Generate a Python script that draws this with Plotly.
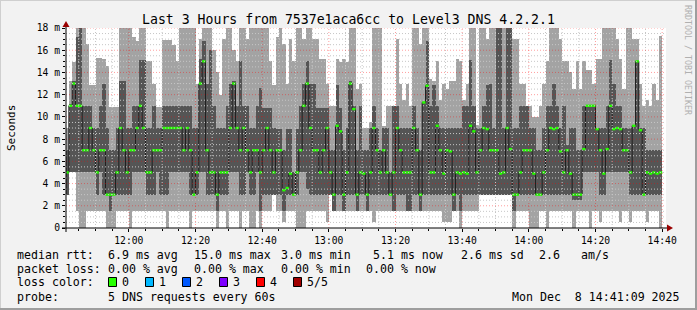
import pandas as pd
import plotly.graph_objects as go

# ---------------- data (one column per minute, 11:41 .. 14:39) ----------------
median = [
    5, 11, 13, 11, 11, 7, 7, 9, 7, 5,
    7, 7, 3, 3, 3, 5, 9, 7, 5, 7,
    7, 9, 11, 9, 5, 5, 7, 7, 7, 9,
    9, 9, 9, 9, 9, 7, 9, 7, 3, 5,
    13, 15, 7, 5, 5, 3, 5, 5, 5, 9,
    13, 9, 7, 9, 7, 5, 7, 7, 5, 7,
    9, 7, 5, 7, 7, 3.4, 3.6, 4.9, 3, 5,
    7, 11, 13, 9, 7, 7, 5, 7, 9, 5,
    3, 9.2, 8.7, 3, 5, 13, 10.7, 3, 5, 4.9,
    3, 5, 9, 7, 5, 7, 5, 3, 5, 9,
    7, 5, 5, 5, 9, 7, 3, 11.3, 12.8, 5,
    5, 9.2, 7, 4.9, 7, 6.9, 3, 5, 4.9, 5,
    4.9, 9.2, 8.7, 5, 7, 9, 8.9, 7, 7, 7,
    4.9, 5, 9, 7.1, 3, 3, 5, 7, 7, 7,
    4.9, 3, 3, 5, 7, 9, 8.9, 9, 6.9, 5,
    7, 4.9, 3, 3, 3, 7.1, 11, 11, 11, 8.9,
    7, 4.9, 7.1, 11, 8.9, 9, 8.9, 7, 7, 5,
    9.2, 15, 8.8, 3, 5, 4.9, 5, 4.9, 5,
]
ping_min = [
    3, 5, 5, 1.5, 0, 0, 1.5, 1.5, 1.5, 1.5,
    1.5, 1.5, 0, 0, 0, 1.5, 1.5, 1.5, 1.5, 0,
    1.5, 1.5, 1.5, 1.5, 1.5, 1.5, 1.5, 1.5, 1.5, 1.5,
    0, 1.5, 1.5, 1.5, 1.5, 1.5, 1.5, 0, 1.5, 1.5,
    1.5, 1.5, 1.5, 1.5, 1.5, 0, 1.5, 1.5, 0, 1.5,
    1.5, 1.5, 0, 1.5, 1.5, 0, 0, 1.5, 0, 1.5,
    1.5, 1.5, 3, 1.5, 1.5, 0.5, 1.5, 1.5, 1.5, 0,
    0, 0, 1.5, 1.5, 1.5, 1.5, 1.5, 1.5, 0.5, 3,
    1.5, 1.5, 1.5, 1.5, 1.5, 1.5, 1.5, 1.5, 1.5, 1.5,
    1.5, 1.5, 0.5, 1.5, 1.5, 1.5, 1.5, 1.5, 1.5, 1.5,
    1.5, 1.5, 1.5, 1.5, 1.5, 1.5, 1.5, 1.5, 1.5, 1.5,
    1.5, 1.5, 1.5, 0.5, 0.5, 0.5, 1.5, 1.5, 0, 1.5,
    1.5, 1.5, 1.5, 1.5, 3, 3, 3, 3, 3, 3,
    3, 3, 3, 3, 0, 1.5, 1.5, 1.5, 1.5, 0,
    0, 0, 1.5, 1.5, 0, 1.5, 1.5, 1.5, 1.5, 1.5,
    1.5, 1.5, 0, 1.5, 1.5, 1.5, 1.5, 0, 1.5, 1.5,
    0.5, 1.5, 1.5, 1.5, 1.5, 1.5, 0.5, 1.5, 1.5, 0.5,
    1.5, 1.5, 1.5, 1.5, 0.5, 1.5, 1.5, 1.5, 0,
]
ping_q1 = [
    3, 5, 5, 5, 5, 5, 5, 5, 5, 3,
    5, 3, 3, 1.5, 3, 3, 3, 3, 3, 3,
    5, 5, 5, 5, 3, 3, 3, 5, 3, 3,
    3, 5, 5, 5, 5, 5, 5, 3, 3, 3,
    5, 5, 3, 3, 3, 1.5, 3, 3, 3, 5,
    5, 5, 3, 3, 5, 3, 3, 5, 1.5, 3,
    3, 3, 3, 3, 3, 1.5, 3, 3, 3, 3,
    5, 5, 3.5, 3, 3, 3, 3, 3, 3, 3,
    1.5, 3, 3, 1.5, 3, 3, 3, 1.5, 3, 3,
    1.5, 3, 3, 3, 3, 3, 3, 3, 1.5, 3,
    3, 3, 1.5, 1.5, 3, 3, 1.5, 3, 3, 3,
    3, 3, 3, 3, 3, 3, 1.5, 3, 1.5, 3,
    3, 3, 3, 3, 3, 3, 3, 3, 3, 3,
    3, 3, 3, 3, 1.5, 3, 3, 3, 3, 3,
    3, 3, 3, 3, 3, 3, 3, 3, 3, 3,
    3, 3, 2.5, 2.5, 2.5, 5, 5, 5, 5, 5,
    3, 3, 5, 5, 5, 5, 5, 5, 5, 3,
    3, 3, 3, 3, 3, 3, 3, 3, 3,
]
ping_q3 = [
    7, 11.2, 13.2, 17.2, 19, 11, 11, 11, 9, 9,
    11, 13, 9, 7, 7, 9, 13.2, 13.2, 9, 9,
    11, 11, 15.1, 15.1, 9, 9, 11, 9, 9, 11,
    11, 11, 11, 11, 11, 11, 11, 11, 9, 9,
    15.2, 16.8, 13, 16, 11, 9, 9, 9, 11, 13,
    13.2, 11, 15, 11, 11, 9, 9, 11, 12.6, 10.8,
    10.8, 10.8, 9, 8.9, 8.9, 7, 8.9, 8.9, 5, 8.9,
    11, 13, 15, 13, 13, 10.8, 10.8, 10.8, 10.8, 7,
    7, 12.9, 10.8, 7, 9, 13.2, 11, 7, 11, 7,
    7, 9, 11, 9, 7, 9, 9, 5, 11, 11,
    9, 9, 9, 9, 11, 9, 7, 11.3, 16.8, 11,
    12.9, 11, 9, 9, 9, 9, 9, 9, 9, 11,
    11, 15.1, 11, 9, 9, 11, 12.9, 13, 9, 19,
    19, 9, 19, 19, 9, 9, 11, 11, 11, 9,
    9, 7, 7, 9, 11, 11, 13, 11, 9, 11,
    7.5, 9, 9, 7, 7, 11, 11, 11, 11, 9,
    9, 9, 11, 15.1, 13, 11, 11, 9, 9, 9,
    9.2, 15, 9, 9, 7, 7, 7, 7, 7,
]
ping_max = [
    9, 13.2, 14.9, 19, 19, 19, 16.6, 12.9, 12.9, 15.3,
    15.3, 15.2, 14.6, 10.9, 10.9, 10.9, 19, 19, 19, 19,
    17.2, 16.8, 19, 19, 15, 15, 13, 10.9, 10.9, 16.9,
    16.9, 16.9, 16.5, 15, 19, 19, 19, 19, 19, 13,
    17, 19, 19, 19, 16, 14, 12, 17, 19, 19,
    16, 15, 19, 19, 17, 19, 19, 19, 19, 19,
    19, 15, 12.9, 17.2, 19, 16.6, 13, 17, 15, 19,
    19, 17, 19, 19, 17, 17, 15.2, 15.2, 13, 11,
    11, 15.2, 14.9, 15.2, 14.9, 19, 19, 12.5, 13, 9,
    9, 9.5, 19, 19, 19, 9.2, 11, 11, 11, 17,
    13, 11.5, 13, 11, 19, 19, 16.6, 19, 19, 13.4,
    13.2, 15, 11.5, 13, 12.5, 13.2, 13.2, 15.2, 15, 11.5,
    13, 19, 19, 9.3, 19, 19, 17, 19, 19, 19,
    19, 19, 19, 19, 17, 17, 13, 13, 11, 11,
    10, 10, 11, 13, 15, 19, 19, 19, 17, 15,
    15, 14, 12.5, 15, 12.5, 15, 14.2, 14.2, 13, 15.2,
    15.2, 19, 19, 19, 19, 17, 15.2, 12.5, 19, 19,
    17, 17, 13, 11, 11.5, 11, 13, 11.5, 17.3,
]

y_ticks = [0, 2, 4, 6, 8, 10, 12, 14, 16, 18]
y_tick_text = ["0", "2 m", "4 m", "6 m", "8 m", "10 m", "12 m", "14 m", "16 m", "18 m"]
x_tick_text = ["12:00", "12:20", "12:40", "13:00", "13:20", "13:40", "14:00", "14:20", "14:40"]

title = "Last 3 Hours from 7537e1aca6cc to Level3 DNS 4.2.2.1"
stats_rtt = [("median rtt:", 16.4), ("6.9 ms avg", 106.7), ("15.0 ms max", 192.5),
             ("3.0 ms min", 280), ("5.1 ms now", 372), ("2.6 ms sd", 459.5),
             ("2.6", 538), ("am/s", 579.5)]
stats_loss = [("packet loss:", 16.4), ("0.00 % avg", 106.7), ("0.00 % max", 193.3),
              ("0.00 % min", 279.5), ("0.00 % now", 365)]
loss_labels = ["0", "1", "2", "3", "4", "5/5"]
loss_colors = ["#26ff00", "#00b8ff", "#0059ff", "#7e00ff", "#ff0000", "#a10000"]

# ---------------- figure ----------------
DAY = "2025-12-08 "
t_start = pd.Timestamp(DAY + "11:41:09")
t_end = pd.Timestamp(DAY + "14:41:09")
times = pd.date_range(DAY + "11:41:00", periods=len(median), freq="min")
centers = times + pd.Timedelta(seconds=30)
STEP = pd.Timedelta(minutes=1)
STEP_MS = 60000

L, T, W, H = 66, 28, 600, 200   # plot area in pixels


def px(x):
    return (x - L) / W


def py(y):
    return (T + H - y) / H


FONT = "DejaVu Sans Mono"

fig = go.Figure()
fig.add_trace(go.Bar(
    x=centers, base=ping_min, y=[hi - lo for lo, hi in zip(ping_min, ping_max)],
    width=STEP_MS, marker=dict(color="#a3a3a3", line=dict(width=0)), hoverinfo="skip"))
fig.add_trace(go.Bar(
    x=centers, base=ping_q1, y=[hi - lo for lo, hi in zip(ping_q1, ping_q3)],
    width=STEP_MS, marker=dict(color="#555555", line=dict(width=0)), hoverinfo="skip"))
# median: black step line
line_x = list(times) + [times[-1] + STEP]
line_y = list(median) + [median[-1]]
fig.add_trace(go.Scatter(
    x=line_x, y=line_y, mode="lines",
    line=dict(shape="hv", color="#202020", width=1), hoverinfo="skip"))
# median: loss-coloured dash for every step (0 loss -> green)
gx, gy = [], []
for tk, m in zip(times, median):
    gx += [tk, tk + STEP, None]
    gy += [m, m, None]
fig.add_trace(go.Scatter(
    x=gx, y=gy, mode="lines", connectgaps=False,
    line=dict(color=loss_colors[0], width=2.4), hoverinfo="skip"))

shapes = []
# grid (drawn above the smoke, like rrdtool)
minor_col = "#c6c6c6"
major_col = "rgba(255,0,0,0.38)"
dash = "1px,2px"
t = pd.Timestamp(DAY + "11:45:00")
while t <= t_end:
    major = (t.minute % 20 == 0)
    shapes.append(dict(type="line", xref="x", yref="paper", x0=t, x1=t, y0=0, y1=1,
                       line=dict(color=major_col if major else minor_col, width=1, dash=dash),
                       layer="above"))
    t += pd.Timedelta(minutes=5)
v = 0.5
while v <= 18.001:
    major = abs(v / 2 - round(v / 2)) < 1e-9
    shapes.append(dict(type="line", xref="paper", yref="y", x0=0, x1=1, y0=v, y1=v,
                       line=dict(color=major_col if major else minor_col, width=1, dash=dash),
                       layer="above"))
    v += 0.5

# axes with arrows
shapes.append(dict(type="line", xref="paper", yref="paper", x0=px(62), x1=px(669), y0=py(228), y1=py(228),
                   line=dict(color="#000000", width=1), layer="above"))
shapes.append(dict(type="line", xref="paper", yref="paper", x0=px(66), x1=px(66), y0=py(232), y1=py(24),
                   line=dict(color="#000000", width=1), layer="above"))
shapes.append(dict(type="path", xref="paper", yref="paper",
                   path=f"M {px(667)} {py(224.5)} L {px(673)} {py(228)} L {px(667)} {py(231.5)} Z",
                   fillcolor="#9a0000", line=dict(width=0), layer="above"))
shapes.append(dict(type="path", xref="paper", yref="paper",
                   path=f"M {px(62.5)} {py(27)} L {px(66)} {py(21)} L {px(69.5)} {py(27)} Z",
                   fillcolor="#9a0000", line=dict(width=0), layer="above"))

# frame of the canvas
shapes.append(dict(type="line", xref="paper", yref="paper", x0=px(0), x1=px(697), y0=py(0.5), y1=py(0.5),
                   line=dict(color="#cfcfcf", width=1)))
shapes.append(dict(type="line", xref="paper", yref="paper", x0=px(0.5), x1=px(0.5), y0=py(0), y1=py(310),
                   line=dict(color="#cfcfcf", width=1)))
shapes.append(dict(type="line", xref="paper", yref="paper", x0=px(0), x1=px(697), y0=py(309), y1=py(309),
                   line=dict(color="#9e9e9e", width=2)))
shapes.append(dict(type="line", xref="paper", yref="paper", x0=px(696), x1=px(696), y0=py(0), y1=py(310),
                   line=dict(color="#9e9e9e", width=2)))

# loss colour boxes
for i, c in enumerate(loss_colors):
    bx = 108.5 + 37 * i
    shapes.append(dict(type="rect", xref="paper", yref="paper",
                       x0=px(bx), x1=px(bx + 8), y0=py(277.5), y1=py(286.5),
                       fillcolor=c, line=dict(color="#000000", width=1)))

ann = []


def text(s, x, y, size=11.6, anchor="left", color="#000000", angle=0):
    ann.append(dict(text=s, x=px(x), y=py(y), xref="paper", yref="paper", showarrow=False,
                    xanchor=anchor, yanchor="middle", textangle=angle, borderpad=0,
                    font=dict(family=FONT, size=size, color=color)))


text(title, 348.5, 19, size=13.2, anchor="center")
text("Seconds", 11, 128, size=11, anchor="center", angle=-90)
text("RRDTOOL / TOBI OETIKER", 688, 60, size=8.3, anchor="center", color="#b0b0b0", angle=90)
for s, x in stats_rtt:
    text(s, x, 254.5)
for s, x in stats_loss:
    text(s, x, 268.5)
text("loss color:", 16.4, 282)
for i, s in enumerate(loss_labels):
    text(s, 121 + 37 * i, 282)
text("probe:", 16.4, 296.5)
text("5 DNS requests every 60s", 106.7, 296.5)
text("Mon Dec  8 14:41:09 2025", 680.5, 296.5, anchor="right")

major_times = [pd.Timestamp(DAY + s) for s in x_tick_text]
minor_times = [pd.Timestamp(DAY + "11:45") + pd.Timedelta(minutes=5 * i) for i in range(36)]
minor_times = [m for m in minor_times if m.minute % 20 != 0 and m <= t_end]

fig.update_layout(
    width=697, height=310,
    margin=dict(l=L, r=697 - L - W, t=T, b=310 - T - H, pad=0),
    paper_bgcolor="#f2f2f2", plot_bgcolor="#ffffff",
    barmode="overlay", bargap=0, showlegend=False,
    shapes=shapes, annotations=ann,
    xaxis=dict(type="date", range=[t_start, t_end], tickvals=major_times, ticktext=x_tick_text,
               ticks="outside", ticklen=3, tickcolor="#000000", tickwidth=1,
               minor=dict(tickvals=minor_times, ticks="outside", ticklen=2, tickcolor="#000000", showgrid=False),
               tickfont=dict(family=FONT, size=9.7, color="#000000"),
               showgrid=False, zeroline=False, showline=False, fixedrange=True),
    yaxis=dict(range=[0, 18], tickvals=y_ticks, ticktext=y_tick_text,
               ticks="outside", ticklen=3, tickcolor="#000000", tickwidth=1,
               minor=dict(tickvals=[v / 2 for v in range(1, 36) if v % 4 != 0], ticks="outside",
                          ticklen=2, tickcolor="#000000", showgrid=False),
               tickfont=dict(family=FONT, size=9.7, color="#000000"),
               showgrid=False, zeroline=False, showline=False, fixedrange=True),
)

fig.write_html("out.html")
